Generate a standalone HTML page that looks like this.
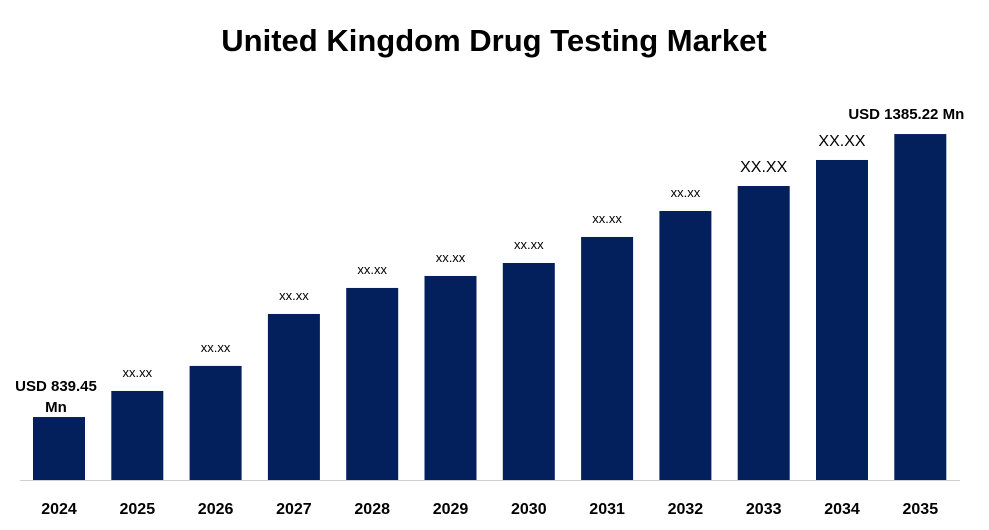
<!DOCTYPE html>
<html><head><meta charset="utf-8"><style>
body{margin:0;background:#fff;width:989px;height:525px;overflow:hidden;font-family:"Liberation Sans",Arial,sans-serif}
</style></head><body>
<svg width="989" height="525">
<text x="494" y="51" text-anchor="middle" font-size="31" font-weight="bold">United Kingdom Drug Testing Market</text>
<g id="bars"></g>
<line x1="20" x2="960" y1="480.5" y2="480.5" stroke="#d0d0d0"/>
</svg>
<script>
const years=["2024","2025","2026","2027","2028","2029","2030","2031","2032","2033","2034","2035"];
const values=[839.45,889.7,938,1038.2,1088.4,1111.5,1136.5,1186.7,1236.8,1285,1335.2,1385.22];
const labels=["USD 839.45 Mn","xx.xx","xx.xx","xx.xx","xx.xx","xx.xx","xx.xx","xx.xx","xx.xx","XX.XX","XX.XX","USD 1385.22 Mn"];
const base=480,vmin=718,k=0.5185;
function y(v){return base-(v-vmin)*k;}
function x(i){return 33+i*78.3;}
const g=document.getElementById('bars');const ns="http://www.w3.org/2000/svg";
years.forEach((yr,i)=>{
 const r=document.createElementNS(ns,'rect');
 r.setAttribute('x',x(i));r.setAttribute('width',52);
 r.setAttribute('y',y(values[i]));r.setAttribute('height',base-y(values[i]));
 r.setAttribute('fill','#03205d');
 
 
 g.appendChild(r);
 const t=document.createElementNS(ns,'text');
 t.setAttribute('x',x(i)+26);t.setAttribute('y',514);t.setAttribute('text-anchor','middle');
 t.setAttribute('font-size','16');t.setAttribute('font-weight','bold');t.textContent=yr;
 
 
 g.appendChild(t);
 const l=document.createElementNS(ns,'text');
 l.setAttribute('text-anchor','middle');
 
 
 const top=y(values[i]);
 if(i===0){
  l.setAttribute('font-size','15');l.setAttribute('font-weight','bold');
  l.innerHTML='<tspan x="'+(x(i)+23)+'" y="'+(top-26)+'">USD 839.45</tspan><tspan x="'+(x(i)+23)+'" y="'+(top-5)+'">Mn</tspan>';
 }else if(i===11){
  l.setAttribute('font-size','15');l.setAttribute('font-weight','bold');
  l.setAttribute('x',x(i)+12);l.setAttribute('y',top-15);l.textContent=labels[i];
 }else{
  const big=labels[i]==="XX.XX";
  l.setAttribute('font-size',big?'16':'13');
  l.setAttribute('x',x(i)+26);l.setAttribute('y',top-(big?14:14));l.textContent=labels[i];
 }
 g.appendChild(l);
});
</script>
</body></html>
